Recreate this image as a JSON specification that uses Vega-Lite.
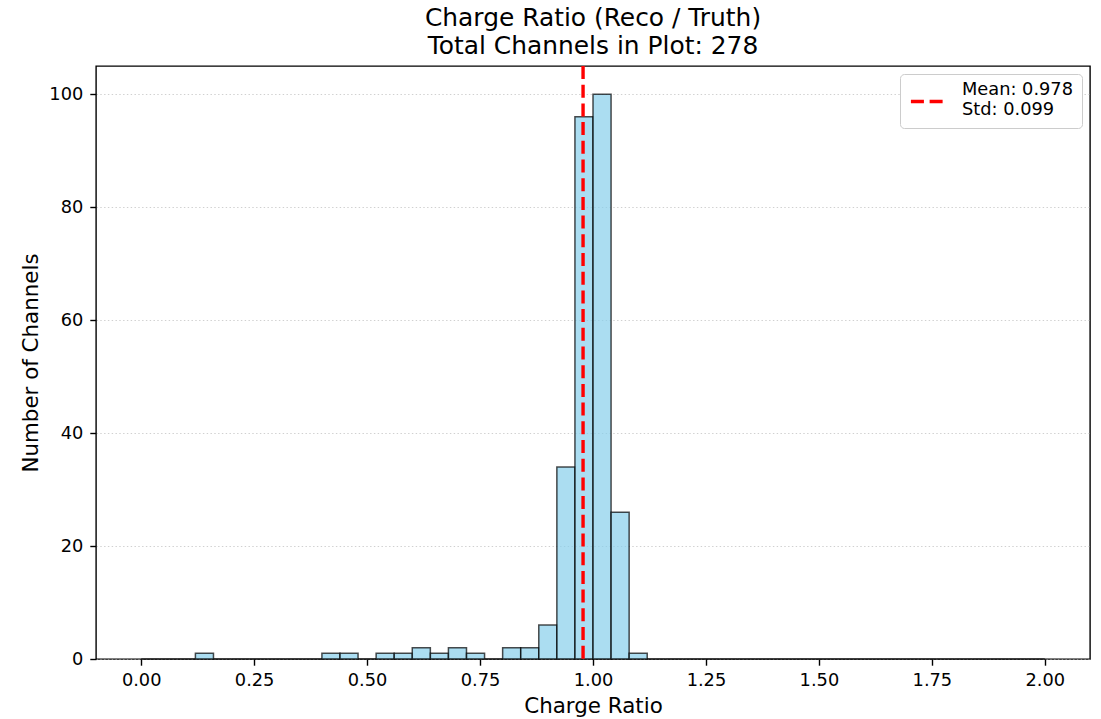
{
  "$schema": "https://vega.github.io/schema/vega-lite/v6.json",
  "width": 994,
  "height": 593,
  "autosize": {"type": "none"},
  "padding": {"left": 96, "top": 66, "right": 11, "bottom": 60},
  "background": "white",
  "title": {
    "text": ["Charge Ratio (Reco / Truth)", "Total Channels in Plot: 278"],
    "fontSize": 24.9,
    "fontWeight": "normal",
    "font": "DejaVu Sans",
    "color": "black",
    "lineHeight": 28,
    "offset": 5,
    "anchor": "middle"
  },
  "config": {
    "view": {"stroke": "black", "strokeWidth": 1.4},
    "font": "DejaVu Sans",
    "axis": {
      "labelFont": "DejaVu Sans",
      "titleFont": "DejaVu Sans",
      "labelFontSize": 17.8,
      "titleFontSize": 21.4,
      "titleFontWeight": "normal",
      "labelColor": "black",
      "titleColor": "black",
      "tickColor": "black",
      "tickSize": 6.2,
      "tickWidth": 1.4,
      "domain": false,
      "labelOverlap": false,
      "labelFlush": false
    }
  },
  "datasets": {
    "bins": [
      {"bin_start": 0.00, "bin_end": 0.04, "count": 0},
      {"bin_start": 0.04, "bin_end": 0.08, "count": 0},
      {"bin_start": 0.08, "bin_end": 0.12, "count": 0},
      {"bin_start": 0.12, "bin_end": 0.16, "count": 1},
      {"bin_start": 0.16, "bin_end": 0.20, "count": 0},
      {"bin_start": 0.20, "bin_end": 0.24, "count": 0},
      {"bin_start": 0.24, "bin_end": 0.28, "count": 0},
      {"bin_start": 0.28, "bin_end": 0.32, "count": 0},
      {"bin_start": 0.32, "bin_end": 0.36, "count": 0},
      {"bin_start": 0.36, "bin_end": 0.40, "count": 0},
      {"bin_start": 0.40, "bin_end": 0.44, "count": 1},
      {"bin_start": 0.44, "bin_end": 0.48, "count": 1},
      {"bin_start": 0.48, "bin_end": 0.52, "count": 0},
      {"bin_start": 0.52, "bin_end": 0.56, "count": 1},
      {"bin_start": 0.56, "bin_end": 0.60, "count": 1},
      {"bin_start": 0.60, "bin_end": 0.64, "count": 2},
      {"bin_start": 0.64, "bin_end": 0.68, "count": 1},
      {"bin_start": 0.68, "bin_end": 0.72, "count": 2},
      {"bin_start": 0.72, "bin_end": 0.76, "count": 1},
      {"bin_start": 0.76, "bin_end": 0.80, "count": 0},
      {"bin_start": 0.80, "bin_end": 0.84, "count": 2},
      {"bin_start": 0.84, "bin_end": 0.88, "count": 2},
      {"bin_start": 0.88, "bin_end": 0.92, "count": 6},
      {"bin_start": 0.92, "bin_end": 0.96, "count": 34},
      {"bin_start": 0.96, "bin_end": 1.00, "count": 96},
      {"bin_start": 1.00, "bin_end": 1.04, "count": 100},
      {"bin_start": 1.04, "bin_end": 1.08, "count": 26},
      {"bin_start": 1.08, "bin_end": 1.12, "count": 1},
      {"bin_start": 1.12, "bin_end": 1.16, "count": 0},
      {"bin_start": 1.16, "bin_end": 1.20, "count": 0},
      {"bin_start": 1.20, "bin_end": 1.24, "count": 0},
      {"bin_start": 1.24, "bin_end": 1.28, "count": 0},
      {"bin_start": 1.28, "bin_end": 1.32, "count": 0},
      {"bin_start": 1.32, "bin_end": 1.36, "count": 0},
      {"bin_start": 1.36, "bin_end": 1.40, "count": 0},
      {"bin_start": 1.40, "bin_end": 1.44, "count": 0},
      {"bin_start": 1.44, "bin_end": 1.48, "count": 0},
      {"bin_start": 1.48, "bin_end": 1.52, "count": 0},
      {"bin_start": 1.52, "bin_end": 1.56, "count": 0},
      {"bin_start": 1.56, "bin_end": 1.60, "count": 0},
      {"bin_start": 1.60, "bin_end": 1.64, "count": 0},
      {"bin_start": 1.64, "bin_end": 1.68, "count": 0},
      {"bin_start": 1.68, "bin_end": 1.72, "count": 0},
      {"bin_start": 1.72, "bin_end": 1.76, "count": 0},
      {"bin_start": 1.76, "bin_end": 1.80, "count": 0},
      {"bin_start": 1.80, "bin_end": 1.84, "count": 0},
      {"bin_start": 1.84, "bin_end": 1.88, "count": 0},
      {"bin_start": 1.88, "bin_end": 1.92, "count": 0},
      {"bin_start": 1.92, "bin_end": 1.96, "count": 0},
      {"bin_start": 1.96, "bin_end": 2.00, "count": 0}
    ],
    "stats": [
      {"mean": 0.978, "label": "Mean: 0.978|Std: 0.099"}
    ]
  },
  "layer": [
    {
      "data": {"name": "bins"},
      "mark": {
        "type": "rect",
        "fill": "#87CEEB",
        "fillOpacity": 0.7,
        "stroke": "black",
        "strokeOpacity": 0.7,
        "strokeWidth": 1.5
      },
      "encoding": {
        "x": {
          "field": "bin_start",
          "type": "quantitative",
          "scale": {"domain": [-0.1, 2.1], "nice": false, "zero": false},
          "axis": {
            "title": "Charge Ratio",
            "values": [0, 0.25, 0.5, 0.75, 1, 1.25, 1.5, 1.75, 2],
            "format": ".2f",
            "grid": false,
            "labelPadding": 6,
            "titlePadding": 6
          }
        },
        "x2": {"field": "bin_end"},
        "y": {
          "field": "count",
          "type": "quantitative",
          "scale": {"domain": [0, 105], "nice": false},
          "axis": {
            "title": "Number of Channels",
            "values": [0, 20, 40, 60, 80, 100],
            "grid": true,
            "gridDash": [1.4, 2.4],
            "gridColor": "#b0b0b0",
            "gridOpacity": 0.6,
            "gridWidth": 1.2,
            "labelPadding": 7,
            "titlePadding": 7
          }
        },
        "y2": {"datum": 0}
      }
    },
    {
      "data": {"name": "stats"},
      "mark": {"type": "rule", "strokeWidth": 3.4, "strokeDash": [13, 5.7]},
      "encoding": {
        "x": {"field": "mean", "type": "quantitative"},
        "color": {
          "field": "label",
          "type": "nominal",
          "scale": {"range": ["red"]},
          "legend": {
            "title": null,
            "orient": "top-right",
            "offset": 8,
            "symbolType": "stroke",
            "symbolSize": 1100,
            "symbolStrokeWidth": 3.4,
            "symbolDash": [13, 5.7],
            "labelExpr": "split(datum.label, '|')",
            "labelFont": "DejaVu Sans",
            "labelFontSize": 17.8,
            "labelColor": "black",
            "labelOffset": 16,
            "labelLimit": 300,
            "padding": 9,
            "fillColor": "white",
            "strokeColor": "#cccccc",
            "cornerRadius": 4,
            "encode": {"labels": {"update": {"lineHeight": {"value": 20}, "dy": {"value": -12}}}}
          }
        }
      }
    }
  ]
}
